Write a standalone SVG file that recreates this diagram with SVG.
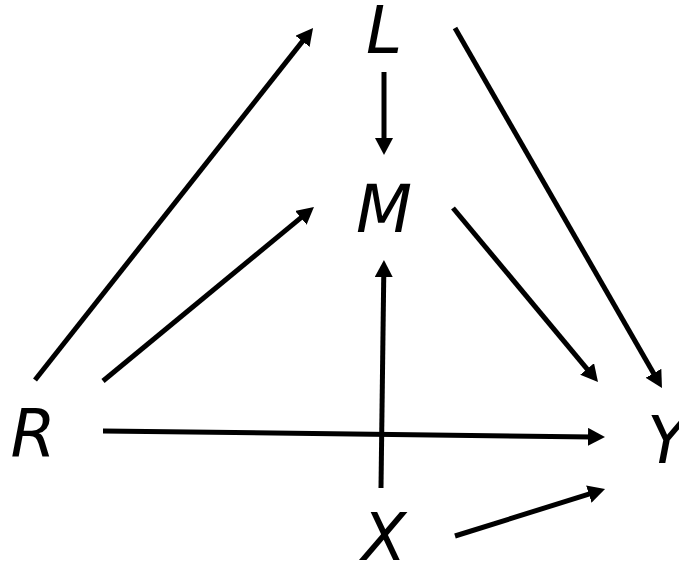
<svg xmlns="http://www.w3.org/2000/svg" width="679" height="565" viewBox="0 0 679 565">
<style>
.n{font-family:"DejaVu Sans",sans-serif;font-style:italic;font-size:65px;fill:#000;text-anchor:middle}
.e{stroke:#000;stroke-width:5;fill:none;marker-end:url(#ah)}
</style>
<defs>
<marker id="ah" markerUnits="userSpaceOnUse" markerWidth="17" markerHeight="18" refX="5" refY="9" orient="auto">
<path d="M0,0 L17,9 L0,18 z" fill="#000"/>
</marker>
</defs>
<rect width="679" height="565" fill="#fff"/>
<g id="edges">
<line class="e" x1="35" y1="380" x2="305.6" y2="37.4"/>
<line class="e" x1="103" y1="381" x2="304.7" y2="214.6"/>
<line class="e" x1="384" y1="72" x2="384" y2="143"/>
<line class="e" x1="455" y1="28" x2="656" y2="377.6"/>
<line class="e" x1="453" y1="208" x2="590.3" y2="372.8"/>
<line class="e" x1="103" y1="431" x2="593" y2="436.9"/>
<line class="e" x1="381" y1="488" x2="383.8" y2="272"/>
<line class="e" x1="455" y1="536" x2="593.6" y2="492.6"/>
</g>
<g id="L"><text class="n" x="384" y="53">L</text></g>
<g id="M"><text class="n" x="384" y="232">M</text></g>
<g id="R"><text class="n" x="33" y="456">R</text></g>
<g id="X"><text class="n" x="384" y="560">X</text></g>
<g id="Y"><text class="n" x="667" y="463">Y</text></g>
</svg>
